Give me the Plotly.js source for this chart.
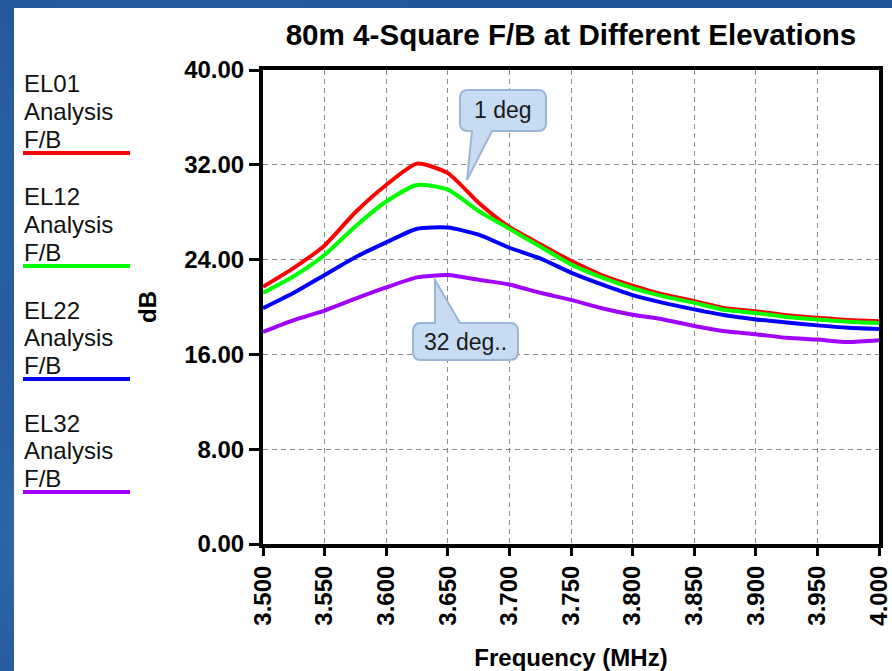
<!DOCTYPE html>
<html>
<head>
<meta charset="utf-8">
<script src="https://cdn.plot.ly/plotly-3.0.1.min.js"></script>
<style>
  html, body { margin: 0; padding: 0; width: 892px; height: 671px; overflow: hidden; }
  body {
    background-color: #22569a;
    background-image:
      radial-gradient(ellipse at 20% 30%, rgba(60,120,190,0.45), rgba(0,0,0,0) 40%),
      radial-gradient(ellipse at 70% 80%, rgba(20,60,120,0.5), rgba(0,0,0,0) 45%),
      radial-gradient(ellipse at 5% 80%, rgba(70,130,200,0.35), rgba(0,0,0,0) 30%);
  }
  #chart { position: absolute; left: 14px; top: 8px; width: 878px; height: 663px; background: #ffffff; }
</style>
</head>
<body>
<div id="chart"></div>
<script>
// ---- data ----
const freqMHz = [3.500, 3.525, 3.550, 3.575, 3.600, 3.625, 3.650, 3.675, 3.700, 3.725, 3.750,
                 3.775, 3.800, 3.825, 3.850, 3.875, 3.900, 3.925, 3.950, 3.975, 4.000];
const el01 = [21.7, 23.3, 25.2, 28.0, 30.3, 32.1, 31.3, 28.8, 26.75, 25.3, 23.9,
              22.7, 21.8, 21.05, 20.5, 19.9, 19.65, 19.3, 19.1, 18.9, 18.8];
const el12 = [21.2, 22.6, 24.4, 26.8, 28.9, 30.3, 29.9, 28.1, 26.6, 25.1, 23.6,
              22.5, 21.6, 20.9, 20.35, 19.75, 19.5, 19.15, 18.95, 18.75, 18.65];
const el22 = [19.9, 21.2, 22.7, 24.2, 25.45, 26.6, 26.7, 26.1, 25.0, 24.1, 22.9,
              21.9, 21.0, 20.35, 19.8, 19.3, 18.95, 18.7, 18.45, 18.25, 18.15];
const el32 = [17.9, 18.9, 19.7, 20.7, 21.65, 22.5, 22.7, 22.3, 21.9, 21.2, 20.6,
              19.9, 19.35, 18.95, 18.4, 17.95, 17.7, 17.4, 17.25, 17.05, 17.2];
const seriesNames = ["EL01", "EL12", "EL22", "EL32"];
const seriesColors = ["#ff0000", "#00ff00", "#0000ff", "#a000ff"];
const xTickVals = [3.50, 3.55, 3.60, 3.65, 3.70, 3.75, 3.80, 3.85, 3.90, 3.95, 4.00];
const xTickText = ["3.500", "3.550", "3.600", "3.650", "3.700", "3.750", "3.800", "3.850", "3.900", "3.950", "4.000"];
const yTickVals = [0, 8, 16, 24, 32, 40];
const yTickText = ["0.00", "8.00", "16.00", "24.00", "32.00", "40.00"];
const chartTitle = "80m 4-Square F/B at Different Elevations";
const xTitle = "Frequency (MHz)";
const yTitle = "dB";
const callout1 = "1 deg";
const callout2 = "32 deg..";

// ---- layout geometry (page px) ----
const W = 878, H = 663, OX = 14, OY = 8;
const M = {l: 249, r: 13, t: 62, b: 127};
const xr = [3.5, 4.0], yr = [0, 40];
const plotL = OX + M.l, plotR = OX + W - M.r, plotT = OY + M.t, plotB = OY + H - M.b;
function xd(px) { return xr[0] + (px - plotL) / (plotR - plotL) * (xr[1] - xr[0]); }
function yd(py) { return yr[0] + (plotB - py) / (plotB - plotT) * (yr[1] - yr[0]); }
function xp(px) { return (px - plotL) / (plotR - plotL); }
function yp(py) { return (plotB - py) / (plotB - plotT); }

const FONT = "Arial, 'Liberation Sans', sans-serif";
const allY = [el01, el12, el22, el32];

const traces = allY.map((ys, i) => ({
  type: "scatter", mode: "lines", x: freqMHz, y: ys,
  name: seriesNames[i] + " Analysis F/B",
  line: {color: seriesColors[i], width: 4, shape: "spline", smoothing: 0.6},
  showlegend: false, hoverinfo: "x+y+name"
}));

// callout path builder (rounded box with tail), page px -> data coords
function P(px, py) { return xd(px).toFixed(5) + "," + yd(py).toFixed(4); }
function calloutPath(x0, y0, x1, y1, r, tail, tailTop) {
  let s = "M" + P(x0 + r, y0);
  if (tailTop) s += " L" + P(tail[0][0], y0) + " L" + P(tail[1][0], tail[1][1]) + " L" + P(tail[2][0], y0);
  s += " L" + P(x1 - r, y0) + " Q" + P(x1, y0) + " " + P(x1, y0 + r);
  s += " L" + P(x1, y1 - r) + " Q" + P(x1, y1) + " " + P(x1 - r, y1);
  if (!tailTop) s += " L" + P(tail[2][0], y1) + " L" + P(tail[1][0], tail[1][1]) + " L" + P(tail[0][0], y1);
  s += " L" + P(x0 + r, y1) + " Q" + P(x0, y1) + " " + P(x0, y1 - r);
  s += " L" + P(x0, y0 + r) + " Q" + P(x0, y0) + " " + P(x0 + r, y0) + " Z";
  return s;
}

const shapes = [
  {type: "path", xref: "x", yref: "y", layer: "above",
   path: calloutPath(460, 90, 546, 131, 8, [[472, 131], [467, 180], [492, 131]], false),
   fillcolor: "#c7dcf2", line: {color: "#9bb5d5", width: 2}},
  {type: "path", xref: "x", yref: "y", layer: "above",
   path: calloutPath(413, 323, 518, 360, 8, [[435, 323], [435, 280], [460, 323]], true),
   fillcolor: "#c7dcf2", line: {color: "#9bb5d5", width: 2}}
];

const annotations = [
  {xref: "x", yref: "y", x: xd(503), y: yd(110), text: callout1, showarrow: false,
   font: {family: FONT, size: 23, color: "#1a1a1a"}, xanchor: "center", yanchor: "middle"},
  {xref: "x", yref: "y", x: xd(465), y: yd(342), text: callout2, showarrow: false,
   font: {family: FONT, size: 23, color: "#1a1a1a"}, xanchor: "center", yanchor: "middle"}
];

// manual legend: text lines above a coloured line
seriesNames.forEach((nm, i) => {
  const dy = i * 113;
  const lines = [nm, "Analysis", "F/B"];
  lines.forEach((t, j) => {
    annotations.push({xref: "paper", yref: "paper", x: xp(22), y: yp(84 + dy + j * 27.5),
      text: t, showarrow: false, xanchor: "left", yanchor: "middle",
      font: {family: FONT, size: 24, color: "#111111"}});
  });
  shapes.push({type: "line", xref: "paper", yref: "paper",
    x0: xp(23), x1: xp(130), y0: yp(153 + dy), y1: yp(153 + dy),
    line: {color: seriesColors[i], width: 4}});
});

const axisCommon = {
  showline: true, linecolor: "#000000", linewidth: 4, mirror: true,
  ticks: "outside", tickcolor: "#000000", tickwidth: 3,
  showgrid: true, gridcolor: "#8a8a8a", gridwidth: 1, griddash: "5px,4px",
  zeroline: false, automargin: false, ticklabeloverflow: "allow",
  tickfont: {family: FONT, size: 24, color: "#000000", weight: "bold"}
};

const layout = {
  width: W, height: H, margin: M,
  paper_bgcolor: "#ffffff", plot_bgcolor: "#ffffff",
  title: {text: chartTitle, x: 0.5, xref: "paper", y: 1 - 27 / H, yref: "container", yanchor: "middle",
          font: {family: FONT, size: 29.6, color: "#000000", weight: "bold"}},
  xaxis: Object.assign({}, axisCommon, {
    range: xr, tickmode: "array", tickvals: xTickVals, ticktext: xTickText, tickangle: -90, ticklen: 8,
    title: {text: xTitle, standoff: 26, font: {family: FONT, size: 24, color: "#000000", weight: "bold"}}
  }),
  yaxis: Object.assign({}, axisCommon, {
    range: yr, tickmode: "array", tickvals: yTickVals, ticktext: yTickText, ticklen: 10,
    title: {text: yTitle, standoff: 22, font: {family: FONT, size: 24, color: "#000000", weight: "bold"}}
  }),
  shapes: shapes, annotations: annotations, showlegend: false
};

Plotly.newPlot("chart", traces, layout, {displayModeBar: false, staticPlot: true});
</script>
</body>
</html>
